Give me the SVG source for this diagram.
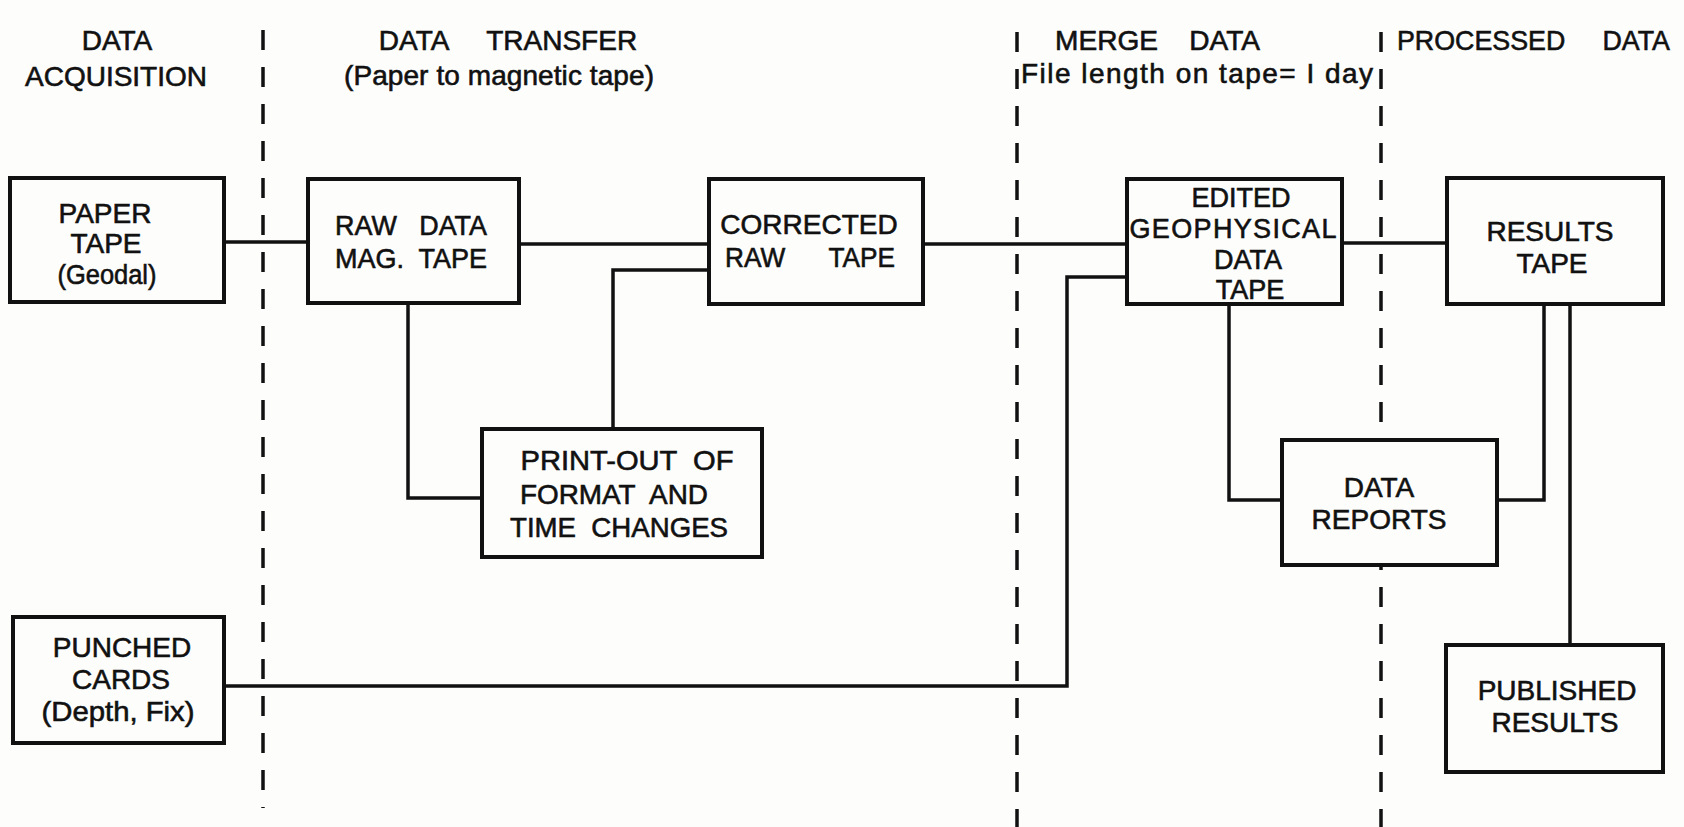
<svg xmlns="http://www.w3.org/2000/svg" width="1684" height="827" viewBox="0 0 1684 827">
<style>
.box{fill:#fdfdfc;stroke:#111;stroke-width:4}
.conn{fill:none;stroke:#111;stroke-width:3.5}
.div{fill:none;stroke:#111;stroke-width:3.5;stroke-dasharray:20 17}
text{font-family:"Liberation Sans",Arial,sans-serif;font-size:28px;fill:#111;stroke:#111;stroke-width:0.6;text-anchor:middle;white-space:pre}
.st{text-anchor:start}
.sm{font-size:27px}
</style>
<rect width="1684" height="827" fill="#fdfdfc"/>
<g id="dividers">
<line class="div" x1="263" y1="30" x2="263" y2="808"/>
<line class="div" x1="1017" y1="32" x2="1017" y2="827"/>
<line class="div" x1="1381" y1="32" x2="1381" y2="827"/>
</g>
<g id="headers">
<text x="117" y="50">DATA</text>
<text x="116" y="86">ACQUISITION</text>
<text x="508" y="50">DATA     TRANSFER</text>
<text x="499" y="85" textLength="310">(Paper to magnetic tape)</text>
<text class="st" x="1055" y="50" textLength="205" lengthAdjust="spacingAndGlyphs">MERGE    DATA</text>
<text class="st" x="1021" y="83" textLength="352">File length on tape= I day</text>
<text class="st" x="1397" y="50" textLength="273" lengthAdjust="spacingAndGlyphs">PROCESSED     DATA</text>
</g>
<g id="connectors">
<path class="conn" d="M224 242 H308"/>
<path class="conn" d="M519 244 H709"/>
<path class="conn" d="M923 244 H1127"/>
<path class="conn" d="M1342 243 H1447"/>
<path class="conn" d="M408 304 V498 H482"/>
<path class="conn" d="M613 429 V270 H709"/>
<path class="conn" d="M224 686 H1067 V277 H1127"/>
<path class="conn" d="M1229 304 V500 H1282"/>
<path class="conn" d="M1497 500 H1544 V304"/>
<path class="conn" d="M1570 304 V645"/>
</g>
<g id="paper-tape">
<rect class="box" x="10" y="178" width="214" height="124"/>
<text x="105" y="223">PAPER</text>
<text x="106" y="253">TAPE</text>
<text x="107" y="284" textLength="99" lengthAdjust="spacingAndGlyphs">(Geodal)</text>
</g>
<g id="raw-data-mag-tape">
<rect class="box" x="308" y="179" width="211" height="124"/>
<text x="411" y="235" textLength="152" lengthAdjust="spacingAndGlyphs">RAW   DATA</text>
<text x="411" y="268" textLength="152" lengthAdjust="spacingAndGlyphs">MAG.  TAPE</text>
</g>
<g id="corrected-raw-tape">
<rect class="box" x="709" y="179" width="214" height="125"/>
<text x="809" y="234">CORRECTED</text>
<text x="810" y="267" textLength="170" lengthAdjust="spacingAndGlyphs">RAW      TAPE</text>
</g>
<g id="print-out">
<rect class="box" x="482" y="429" width="280" height="128"/>
<text x="627" y="470" textLength="213" lengthAdjust="spacingAndGlyphs">PRINT-OUT  OF</text>
<text x="614" y="504" textLength="188" lengthAdjust="spacingAndGlyphs">FORMAT  AND</text>
<text x="619" y="537" textLength="218" lengthAdjust="spacingAndGlyphs">TIME  CHANGES</text>
</g>
<g id="edited-geophysical-data-tape">
<rect class="box" x="1127" y="179" width="215" height="125"/>
<text class="sm" x="1241" y="207">EDITED</text>
<text class="sm" x="1233" y="238" textLength="207">GEOPHYSICAL</text>
<text class="sm" x="1248" y="268.5">DATA</text>
<text class="sm" x="1250" y="299">TAPE</text>
</g>
<g id="results-tape">
<rect class="box" x="1447" y="178" width="216" height="126"/>
<text x="1550" y="241">RESULTS</text>
<text x="1552" y="273">TAPE</text>
</g>
<g id="data-reports">
<rect class="box" x="1282" y="440" width="215" height="125"/>
<text x="1379" y="497">DATA</text>
<text x="1379" y="529">REPORTS</text>
</g>
<g id="punched-cards">
<rect class="box" x="13" y="617" width="211" height="126"/>
<text x="122" y="657">PUNCHED</text>
<text x="121" y="689">CARDS</text>
<text x="118" y="721" textLength="153" lengthAdjust="spacingAndGlyphs">(Depth, Fix)</text>
</g>
<g id="published-results">
<rect class="box" x="1446" y="645" width="217" height="127"/>
<text x="1557" y="700">PUBLISHED</text>
<text x="1555" y="732">RESULTS</text>
</g>
</svg>
